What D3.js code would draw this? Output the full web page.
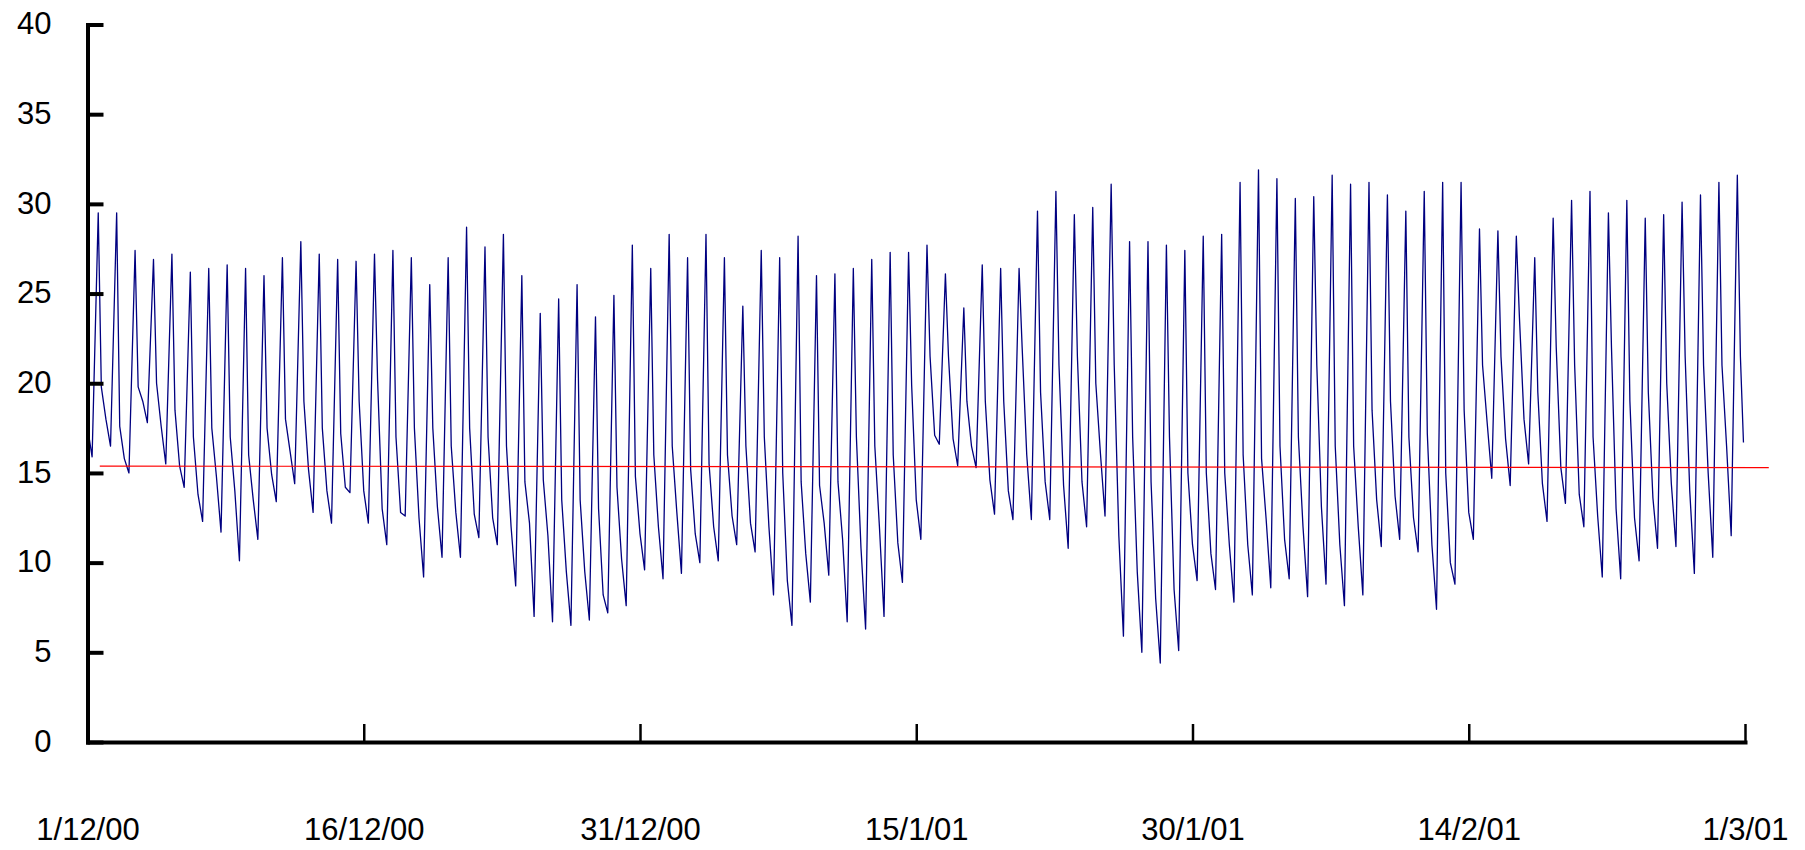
<!DOCTYPE html>
<html>
<head>
<meta charset="utf-8">
<script src="https://cdn.jsdelivr.net/npm/d3@7"></script>
<style>
  body { margin: 0; background: #ffffff; }
  svg { display: block; }
</style>
</head>
<body>
<svg id="chart" width="1805" height="850"></svg>
<script>
// ---------------- DATA ----------------
const periodStart = new Date(2000, 11, 1);
const periodEnd = new Date(2001, 2, 1);

const yTickValues = [0, 5, 10, 15, 20, 25, 30, 35, 40];
const xTickDates = [
  new Date(2000, 11, 1), new Date(2000, 11, 16), new Date(2000, 11, 31),
  new Date(2001, 0, 15), new Date(2001, 0, 30), new Date(2001, 1, 14), new Date(2001, 2, 1)
];
const xTickLabels = ["1/12/00", "16/12/00", "31/12/00", "15/1/01", "30/1/01", "14/2/01", "1/3/01"];

// hour of day of each daily reading
const hourMin = 6, hourMax = 14, hourEvening = 18, hourMidnight = 24, hourLast = 22;

// first two readings on 1/12/00 (00h, 02h)
const startValues = [18.6, 17.0];

// daily early-morning minimum (1/12/00 .. 28/2/01)
const dailyMin = [
  15.9, 16.5, 15.0, 17.8, 15.5, 14.2, 12.3, 11.7, 10.1, 11.3,
  13.4, 14.4, 12.8, 12.2, 13.9, 12.2, 11.0, 12.6, 9.2, 10.3,
  10.3, 11.4, 11.0, 8.7, 7.0, 6.7, 6.5, 6.8, 7.2, 7.6,
  9.6, 9.1, 9.4, 10.0, 10.1, 11.0, 10.6, 8.2, 6.5, 7.8,
  9.3, 6.7, 6.3, 7.0, 8.9, 11.3, 16.6, 15.4, 15.3, 12.7,
  12.4, 12.4, 12.4, 10.8, 12.0, 12.6, 5.9, 5.0, 4.4, 5.1,
  9.0, 8.5, 7.8, 8.2, 8.6, 9.1, 8.1, 8.8, 7.6, 8.2,
  10.9, 11.3, 10.6, 7.4, 8.8, 11.3, 14.7, 14.3, 15.5, 12.3,
  13.3, 12.0, 9.2, 9.1, 10.1, 10.8, 10.9, 9.4, 10.3, 11.5
];

// daily afternoon maximum
const dailyMax = [
  29.5, 29.5, 27.4, 26.9, 27.2, 26.2, 26.4, 26.6, 26.4, 26.0,
  27.0, 27.9, 27.2, 26.9, 26.8, 27.2, 27.4, 27.0, 25.5, 27.0,
  28.7, 27.6, 28.3, 26.0, 23.9, 24.7, 25.5, 23.7, 24.9, 27.7,
  26.4, 28.3, 27.0, 28.3, 27.0, 24.3, 27.4, 27.0, 28.2, 26.0,
  26.1, 26.4, 26.9, 27.3, 27.3, 27.7, 26.1, 24.2, 26.6, 26.4,
  26.4, 29.6, 30.7, 29.4, 29.8, 31.1, 27.9, 27.9, 27.7, 27.4,
  28.2, 28.3, 31.2, 31.9, 31.4, 30.3, 30.4, 31.6, 31.1, 31.2,
  30.5, 29.6, 30.7, 31.2, 31.2, 28.6, 28.5, 28.2, 27.0, 29.2,
  30.2, 30.7, 29.5, 30.2, 29.2, 29.4, 30.1, 30.5, 31.2, 31.6
];

// daily early-evening reading after the fast drop
const dailyEvening = [
  19.8, 17.6, 19.8, 20.0, 18.5, 17.0, 17.5, 17.0, 16.0, 17.5,
  18.0, 19.0, 17.5, 17.2, 19.0, 20.2, 17.0, 17.5, 17.5, 16.5,
  17.5, 17.0, 16.5, 14.5, 14.6, 13.5, 13.5, 13.0, 14.2, 14.8,
  16.0, 16.5, 15.2, 15.5, 16.0, 16.5, 17.0, 15.0, 14.5, 14.3,
  14.5, 17.0, 16.5, 16.0, 19.9, 21.5, 21.5, 19.0, 19.0, 19.0,
  22.0, 19.5, 21.0, 21.5, 20.0, 21.0, 17.0, 14.5, 17.0, 15.0,
  15.0, 15.0, 16.0, 15.8, 16.5, 17.0, 21.0, 16.5, 16.5, 18.5,
  19.0, 17.0, 17.2, 15.0, 18.5, 21.0, 21.5, 23.7, 19.5, 22.0,
  21.0, 17.0, 22.0, 19.0, 19.5, 20.0, 21.5, 21.0, 21.0, 21.5
];

// reading at midnight (end of each day, 1/12/00 .. 27/2/01)
const dailyMidnight = [
  18.0, 15.8, 19.0, 17.6, 15.4, 13.8, 14.8, 14.0, 13.5, 14.9,
  16.2, 15.2, 14.0, 14.2, 14.0, 13.0, 12.8, 12.5, 13.1, 12.8,
  12.7, 12.5, 12.0, 12.2, 11.5, 9.5, 9.5, 8.2, 10.2, 11.6,
  12.0, 12.8, 11.6, 12.0, 12.6, 12.2, 12.0, 9.0, 10.5, 12.2,
  11.3, 10.8, 12.0, 11.1, 13.5, 17.1, 16.9, 16.5, 14.6, 14.0,
  16.0, 14.5, 14.3, 14.5, 16.1, 11.5, 9.5, 8.0, 8.5, 11.0,
  10.5, 11.0, 11.0, 12.4, 11.3, 12.0, 13.1, 11.0, 12.0, 13.5,
  13.7, 12.5, 11.0, 10.0, 12.8, 17.8, 16.9, 18.0, 14.4, 15.3,
  13.8, 12.6, 13.0, 12.5, 13.6, 14.4, 14.0, 15.0, 16.5
];

// last reading (28/2/01, 22h)
const lastValue = 16.7;

// red horizontal reference (trend) line: end points
const trendDates = [new Date(2000, 11, 1, 16), new Date(2001, 2, 2, 7)];
const trendValues = [15.38, 15.30];

// ---------------- BUILD SERIES ----------------
const series = [];
startValues.forEach((v, i) => series.push({ date: d3.timeHour.offset(periodStart, i * 2), value: v }));
dailyMin.forEach((_, d) => {
  const day = d3.timeDay.offset(periodStart, d);
  series.push({ date: d3.timeHour.offset(day, hourMin), value: dailyMin[d] });
  series.push({ date: d3.timeHour.offset(day, hourMax), value: dailyMax[d] });
  series.push({ date: d3.timeHour.offset(day, hourEvening), value: dailyEvening[d] });
  if (d < dailyMidnight.length) {
    series.push({ date: d3.timeHour.offset(day, hourMidnight), value: dailyMidnight[d] });
  } else {
    series.push({ date: d3.timeHour.offset(day, hourLast), value: lastValue });
  }
});
const trend = trendDates.map((dt, i) => ({ date: dt, value: trendValues[i] }));

// ---------------- DRAW ----------------
const svg = d3.select("#chart");
const x = d3.scaleTime().domain([periodStart, periodEnd]).range([87.5, 1745]);
const y = d3.scaleLinear().domain([0, 40]).range([742, 24.5]);

const line = d3.line().x(d => x(d.date)).y(d => y(d.value));

svg.append("path")
  .datum(series)
  .attr("fill", "none")
  .attr("stroke", "#000080")
  .attr("stroke-width", 1.3)
  .attr("stroke-linejoin", "round")
  .attr("d", line);

svg.append("path")
  .datum(trend)
  .attr("fill", "none")
  .attr("stroke", "#ff0000")
  .attr("stroke-width", 1.2)
  .attr("d", line);

const fontFamily = '"Liberation Sans", Arial, Helvetica, sans-serif';

// Y axis
const yAxis = svg.append("g")
  .attr("transform", "translate(87.5,0)")
  .call(d3.axisLeft(y).tickValues(yTickValues).tickFormat(d3.format("d"))
    .tickSize(-16).tickSizeOuter(0).tickPadding(36));
yAxis.select(".domain").attr("stroke", "#000").attr("stroke-width", 4).attr("stroke-linecap", "square");
yAxis.selectAll(".tick line").attr("stroke", "#000").attr("stroke-width", 4);
yAxis.selectAll(".tick text")
  .attr("font-family", fontFamily).attr("font-size", 31).attr("fill", "#000")
  .attr("dy", "0.3em");

// X axis
const xAxis = svg.append("g")
  .attr("transform", "translate(0,742)")
  .call(d3.axisBottom(x).tickValues(xTickDates).tickFormat((d, i) => xTickLabels[i])
    .tickSize(-18).tickSizeOuter(0).tickPadding(76));
xAxis.select(".domain").attr("stroke", "#000").attr("stroke-width", 4).attr("stroke-linecap", "square");
xAxis.selectAll(".tick line").attr("stroke", "#000").attr("stroke-width", 2.5);
xAxis.selectAll(".tick text")
  .attr("font-family", fontFamily).attr("font-size", 31).attr("fill", "#000");
</script>
</body>
</html>
